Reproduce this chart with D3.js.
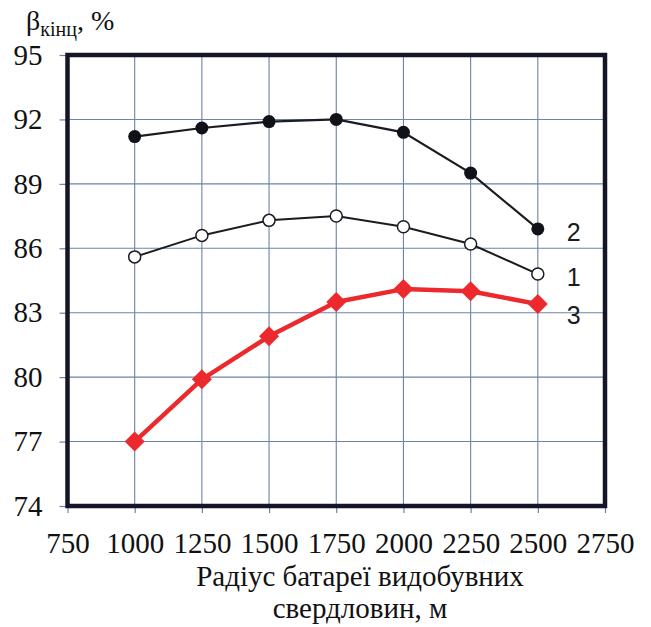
<!DOCTYPE html>
<html>
<head>
<meta charset="utf-8">
<script src="https://cdn.jsdelivr.net/npm/d3@7"></script>
<style>
  html, body { margin: 0; padding: 0; background: #fff; }
  svg { display: block; }
</style>
</head>
<body>
<svg id="chart" width="651" height="627"></svg>
<script>
// Radius of the production well battery, m
const radii = [1000, 1250, 1500, 1750, 2000, 2250, 2500];
// Final recovery β, % for each variant
const series1 = [85.6, 86.6, 87.3, 87.5, 87.0, 86.2, 84.8];
const series2 = [91.2, 91.6, 91.9, 92.0, 91.4, 89.5, 86.9];
const series3 = [77.0, 79.9, 81.9, 83.5, 84.1, 84.0, 83.4];
const seriesNames = ["1", "2", "3"];
const xTicks = [750, 1000, 1250, 1500, 1750, 2000, 2250, 2500, 2750];
const yTicks = [74, 77, 80, 83, 86, 89, 92, 95];

const svg = d3.select("#chart");
const plotL = 67.5, plotR = 605, plotT = 55, plotB = 506;

const x = d3.scaleLinear().domain([750, 2750]).range([plotL, plotR]);
const y = d3.scaleLinear().domain([74, 95]).range([plotB, plotT]);

const serif = "'Liberation Serif', 'Times New Roman', serif";
const sans = "'Liberation Sans', Arial, sans-serif";
const gridColor = "#6d82a8";
const frameColor = "#15152a";

// grid
svg.append("g")
  .selectAll("line")
  .data(xTicks.slice(1, -1))
  .join("line")
  .attr("x1", d => x(d)).attr("x2", d => x(d))
  .attr("y1", plotT).attr("y2", plotB)
  .attr("stroke", gridColor).attr("stroke-width", 1.1);
svg.append("g")
  .selectAll("line")
  .data(yTicks.slice(1, -1))
  .join("line")
  .attr("x1", plotL).attr("x2", plotR)
  .attr("y1", d => y(d)).attr("y2", d => y(d))
  .attr("stroke", gridColor).attr("stroke-width", 1.1);

// axes
const xAxis = svg.append("g")
  .attr("transform", `translate(0,${plotB})`)
  .call(d3.axisBottom(x).tickValues(xTicks).tickSize(7).tickPadding(20).tickFormat(d3.format("d")));
xAxis.select(".domain").remove();
xAxis.selectAll(".tick line").attr("stroke", gridColor).attr("stroke-width", 1.2);
xAxis.selectAll("text")
  .attr("font-family", serif).attr("font-size", 29).attr("fill", "#111")
  .attr("dy", "0.7em");

const yAxis = svg.append("g")
  .attr("transform", `translate(${plotL},0)`)
  .call(d3.axisLeft(y).tickValues(yTicks).tickSize(8).tickPadding(17).tickFormat(d3.format("d")));
yAxis.select(".domain").remove();
yAxis.selectAll(".tick line").attr("stroke", gridColor).attr("stroke-width", 1.2);
yAxis.selectAll("text")
  .attr("font-family", serif).attr("font-size", 29).attr("fill", "#111");

// frame
svg.append("rect")
  .attr("x", plotL).attr("y", plotT)
  .attr("width", plotR - plotL).attr("height", plotB - plotT)
  .attr("fill", "none").attr("stroke", frameColor).attr("stroke-width", 4.5);

const line = d3.line().x((d, i) => x(radii[i])).y(d => y(d));

// curve 1: open circles
svg.append("path").datum(series1).attr("d", line)
  .attr("fill", "none").attr("stroke", "#1b1b22").attr("stroke-width", 2);
svg.append("g").selectAll("circle").data(series1).join("circle")
  .attr("cx", (d, i) => x(radii[i])).attr("cy", d => y(d)).attr("r", 6)
  .attr("fill", "#fff").attr("stroke", "#1b1b22").attr("stroke-width", 1.5);

// curve 2: filled circles
svg.append("path").datum(series2).attr("d", line)
  .attr("fill", "none").attr("stroke", "#1b1b22").attr("stroke-width", 2.2);
svg.append("g").selectAll("circle").data(series2).join("circle")
  .attr("cx", (d, i) => x(radii[i])).attr("cy", d => y(d)).attr("r", 6.5)
  .attr("fill", "#111118");

// curve 3: red diamonds
const red = "#ec2a2d";
svg.append("path").datum(series3).attr("d", line)
  .attr("fill", "none").attr("stroke", red).attr("stroke-width", 4.5)
  .attr("stroke-linejoin", "round");
svg.append("g").selectAll("path").data(series3).join("path")
  .attr("transform", (d, i) => `translate(${x(radii[i])},${y(d)})`)
  .attr("d", "M0,-10L10,0L0,10L-10,0Z")
  .attr("fill", red);

// curve labels next to the last points
const labelData = [
  { name: seriesNames[1], v: series2[6], dy: 12 },
  { name: seriesNames[0], v: series1[6], dy: 12 },
  { name: seriesNames[2], v: series3[6], dy: 20 }
];
svg.append("g").selectAll("text").data(labelData).join("text")
  .attr("x", x(2500) + 36).attr("y", d => y(d.v) + d.dy)
  .attr("text-anchor", "middle")
  .attr("font-family", sans).attr("font-size", 25).attr("fill", "#1b1b22")
  .text(d => d.name);

// y axis title: β_кінц, %
const yt = svg.append("text")
  .attr("x", 26).attr("y", 30)
  .attr("font-family", serif).attr("font-size", 28).attr("fill", "#111");
yt.append("tspan").text("β");
yt.append("tspan").attr("font-size", 20).attr("dy", 6).text("кінц");
yt.append("tspan").attr("dy", -6).text(", %");

// x axis title
const xt = svg.append("text")
  .attr("text-anchor", "middle")
  .attr("font-family", serif).attr("font-size", 29).attr("fill", "#111");
xt.append("tspan").attr("x", 360).attr("y", 586).text("Радіус батареї видобувних");
xt.append("tspan").attr("x", 360).attr("y", 618).text("свердловин, м");
</script>
</body>
</html>
